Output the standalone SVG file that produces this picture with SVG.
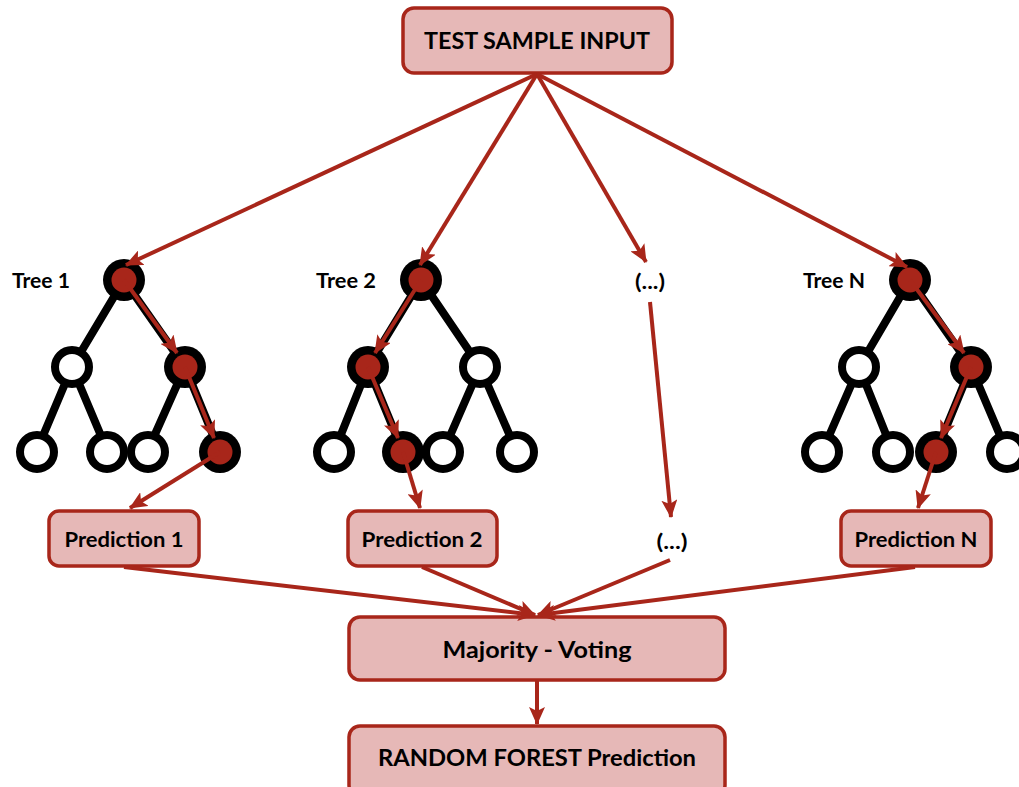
<svg xmlns="http://www.w3.org/2000/svg" width="1019" height="787" viewBox="0 0 1019 787">
<style>
.box{fill:#E6B8B7;stroke:#A8261A;stroke-width:3.5}
.t{font-family:Lato,"Open Sans","Liberation Sans",sans-serif;font-weight:bold;fill:#000;text-anchor:middle}
.e{stroke:#000;stroke-width:8;fill:none}
.n{fill:#fff;stroke:#000;stroke-width:8}
.v{fill:#000}
.r{fill:#A8261A}
.a{stroke:#A8261A;stroke-width:4;fill:none;marker-end:url(#ah)}
</style>
<defs>
<marker id="ah" markerUnits="userSpaceOnUse" markerWidth="18" markerHeight="16" refX="17" refY="8" orient="auto" viewBox="0 0 18 16">
<path d="M0,0 L18,8 L0,16 L4,8 z" fill="#A8261A"/>
</marker>
</defs>

<g id="input">
<rect class="box" x="403" y="8" width="269" height="65" rx="11"/>
<text class="t" x="537" y="49" font-size="23.5" textLength="226" lengthAdjust="spacingAndGlyphs">TEST SAMPLE INPUT</text>
</g>

<g id="tree1">
<text class="t" x="41" y="288" font-size="21" textLength="58" lengthAdjust="spacingAndGlyphs">Tree 1</text>
<path class="e" d="M124,280 L72,367 L37,450 M72,367 L107,450 M124,280 L185,367 L148,450 M185,367 L220,452"/>
<circle class="v" cx="124" cy="280" r="21"/><circle class="r" cx="124" cy="280" r="12.5"/>
<circle class="n" cx="72" cy="367" r="17"/>
<circle class="v" cx="185" cy="367" r="21"/><circle class="r" cx="185" cy="367" r="12.5"/>
<circle class="n" cx="37" cy="452" r="17"/>
<circle class="n" cx="107" cy="452" r="17"/>
<circle class="n" cx="148" cy="452" r="17"/>
<circle class="v" cx="220" cy="452" r="21"/><circle class="r" cx="220" cy="452" r="12.5"/>
</g>

<g id="tree2">
<text class="t" x="346" y="288" font-size="21" textLength="60" lengthAdjust="spacingAndGlyphs">Tree 2</text>
<path class="e" d="M421,280 L368,367 L334,452 M368,367 L403,452 M421,280 L480,367 L443,452 M480,367 L517,452"/>
<circle class="v" cx="421" cy="280" r="21"/><circle class="r" cx="421" cy="280" r="12.5"/>
<circle class="v" cx="368" cy="367" r="21"/><circle class="r" cx="368" cy="367" r="12.5"/>
<circle class="n" cx="480" cy="367" r="17"/>
<circle class="n" cx="334" cy="452" r="17"/>
<circle class="v" cx="403" cy="452" r="21"/><circle class="r" cx="403" cy="452" r="12.5"/>
<circle class="n" cx="443" cy="452" r="17"/>
<circle class="n" cx="517" cy="452" r="17"/>
</g>

<g id="treeN">
<text class="t" x="834" y="288" font-size="21" textLength="62" lengthAdjust="spacingAndGlyphs">Tree N</text>
<path class="e" d="M910,280 L859,367 L822,452 M859,367 L893,452 M910,280 L971,367 L936,452 M971,367 L1007,452"/>
<circle class="v" cx="910" cy="280" r="21"/><circle class="r" cx="910" cy="280" r="12.5"/>
<circle class="n" cx="859" cy="367" r="17"/>
<circle class="v" cx="971" cy="367" r="21"/><circle class="r" cx="971" cy="367" r="12.5"/>
<circle class="n" cx="822" cy="452" r="17"/>
<circle class="n" cx="893" cy="452" r="17"/>
<circle class="v" cx="936" cy="452" r="21"/><circle class="r" cx="936" cy="452" r="12.5"/>
<circle class="n" cx="1007" cy="452" r="17"/>
</g>

<g id="dots-top">
<text class="t" x="650" y="289" font-size="21" textLength="30" lengthAdjust="spacingAndGlyphs">(...)</text>
</g>

<g id="pred1">
<rect class="box" x="49" y="511" width="150" height="55" rx="10"/>
<text class="t" x="124" y="547" font-size="21" textLength="119" lengthAdjust="spacingAndGlyphs">Prediction 1</text>
</g>
<g id="pred2">
<rect class="box" x="348" y="511" width="149" height="55" rx="10"/>
<text class="t" x="422" y="547" font-size="21" textLength="121" lengthAdjust="spacingAndGlyphs">Prediction 2</text>
</g>
<g id="dots-bottom">
<text class="t" x="672" y="549" font-size="21" textLength="31" lengthAdjust="spacingAndGlyphs">(...)</text>
</g>
<g id="predN">
<rect class="box" x="841" y="511" width="150" height="55" rx="10"/>
<text class="t" x="916" y="547" font-size="21" textLength="123" lengthAdjust="spacingAndGlyphs">Prediction N</text>
</g>

<g id="voting">
<rect class="box" x="349" y="617" width="376" height="63" rx="11"/>
<text class="t" x="537" y="658" font-size="23" textLength="189" lengthAdjust="spacingAndGlyphs">Majority - Voting</text>
</g>
<g id="result">
<rect class="box" x="349" y="726" width="376" height="70" rx="11"/>
<text class="t" x="537" y="766" font-size="23" textLength="318" lengthAdjust="spacingAndGlyphs">RANDOM FOREST Prediction</text>
</g>

<g id="connectors">
<line class="a" x1="537" y1="74" x2="126" y2="265"/>
<line class="a" x1="537" y1="74" x2="420" y2="265"/>
<line class="a" x1="537" y1="74" x2="646" y2="262"/>
<line class="a" x1="537" y1="74" x2="907" y2="267"/>
<line class="a" x1="124" y1="280" x2="177" y2="353"/>
<line class="a" x1="185" y1="367" x2="214" y2="438"/>
<line class="a" x1="421" y1="280" x2="375" y2="353"/>
<line class="a" x1="368" y1="367" x2="398" y2="438"/>
<line class="a" x1="910" y1="280" x2="964" y2="353"/>
<line class="a" x1="971" y1="367" x2="941" y2="438"/>
<line class="a" x1="220" y1="452" x2="130" y2="508"/>
<line class="a" x1="403" y1="452" x2="420" y2="508"/>
<line class="a" x1="936" y1="452" x2="918" y2="508"/>
<line class="a" x1="650" y1="302" x2="671" y2="517"/>
<line class="a" x1="124" y1="567" x2="535" y2="615"/>
<line class="a" x1="422" y1="567" x2="535" y2="615"/>
<line class="a" x1="670" y1="560" x2="538" y2="615"/>
<line class="a" x1="915" y1="567" x2="538" y2="615"/>
<line class="a" x1="537" y1="681" x2="537" y2="724"/>
</g>
</svg>
